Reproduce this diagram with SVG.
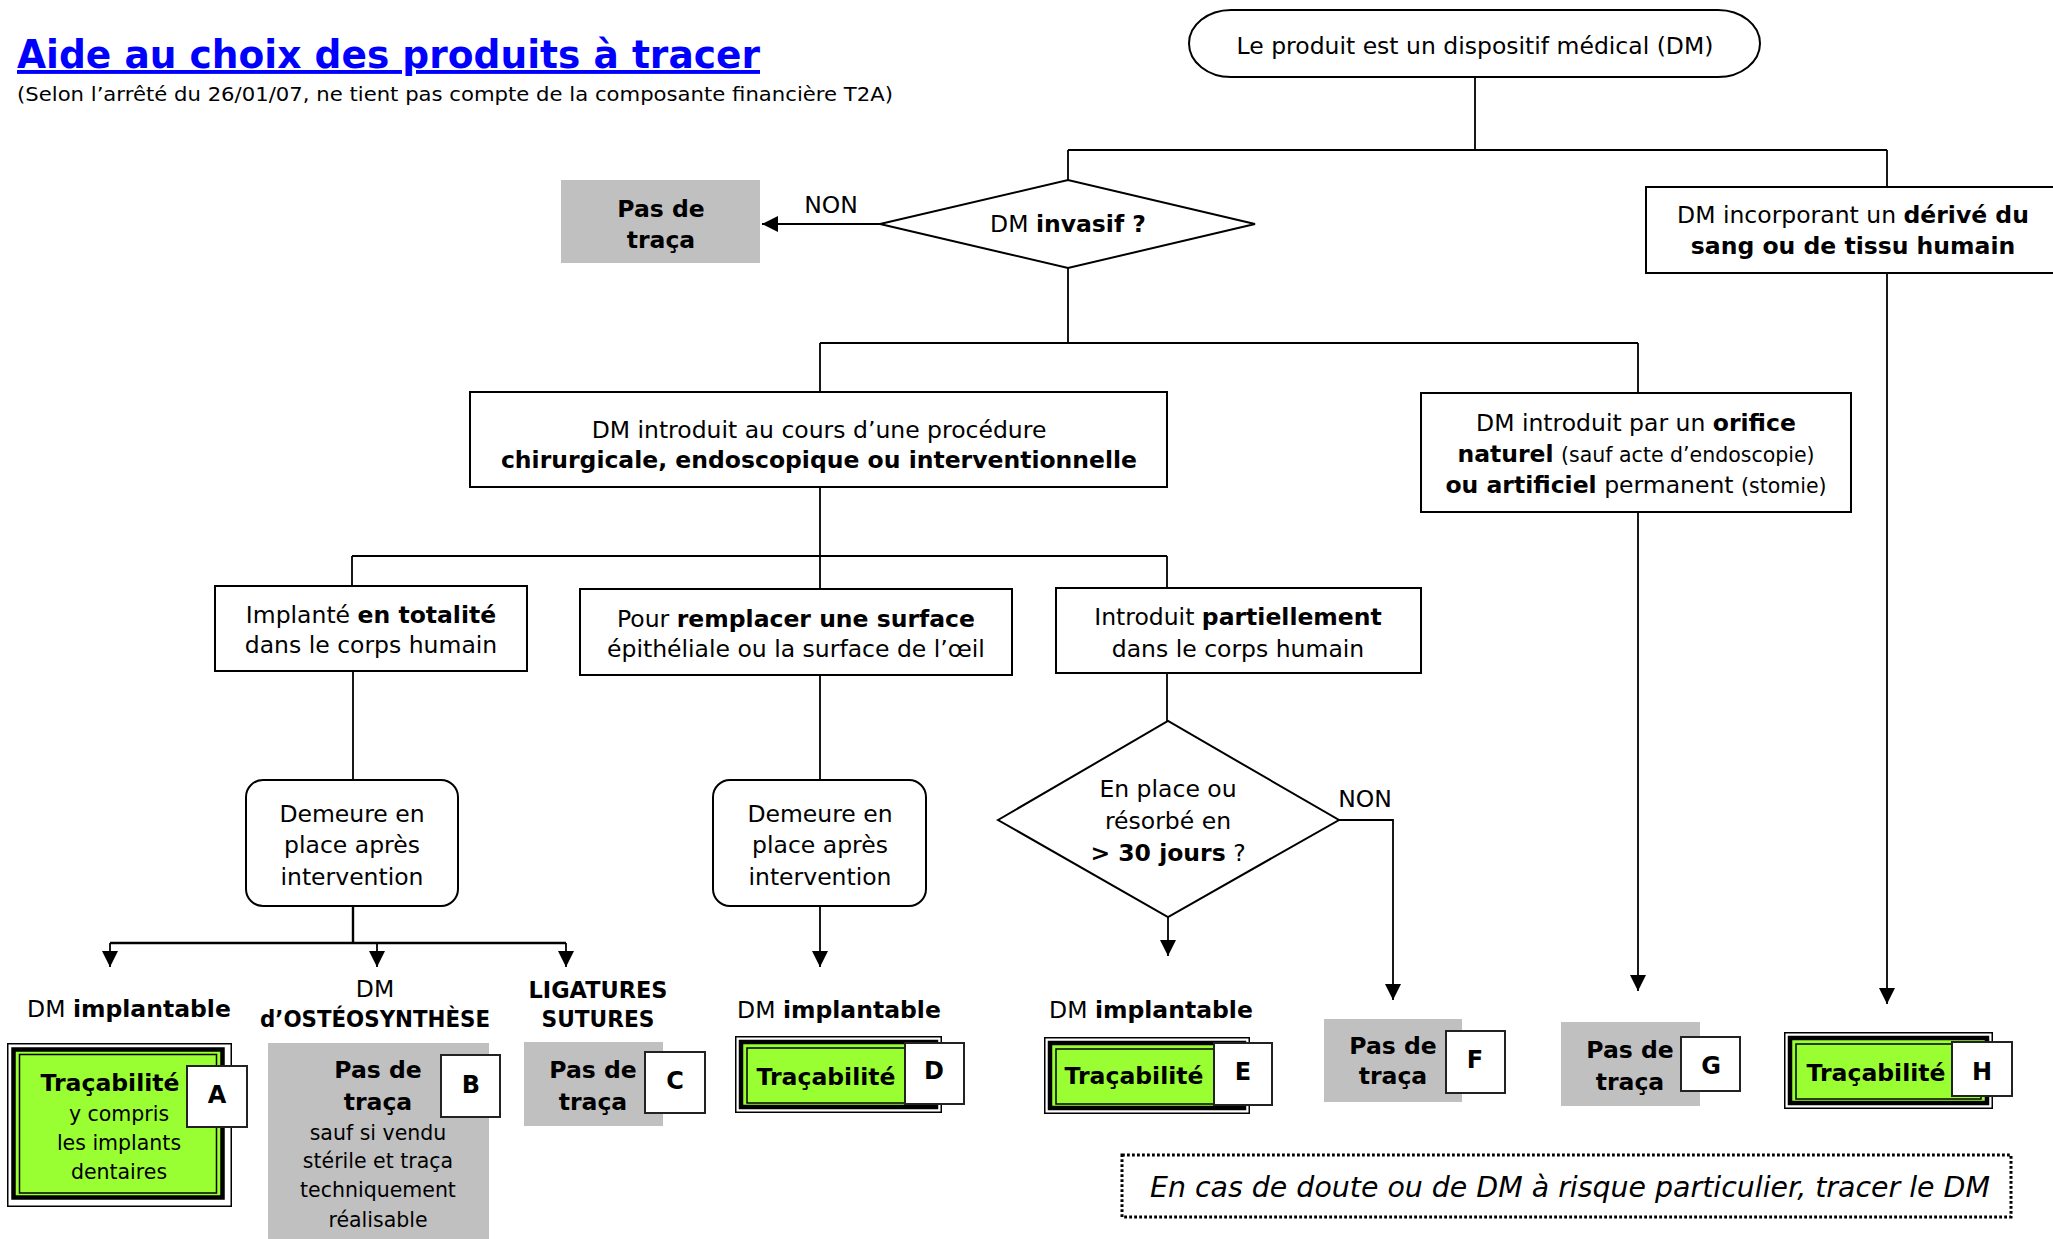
<svg xmlns="http://www.w3.org/2000/svg" width="2053" height="1239" viewBox="0 0 2053 1239">
<defs>
<style>
.t{font-family:"DejaVu Sans",Verdana,sans-serif;font-size:23.5px;fill:#000;text-anchor:middle}
.l{text-anchor:start}
.b{font-weight:bold}
.s{font-size:20.5px}
.box{fill:#fff;stroke:#000;stroke-width:2}
.gray{fill:#C0C0C0}
.badge{fill:#fff;stroke:#222;stroke-width:2}
.o1{fill:#fff;stroke:#000;stroke-width:1.5}
.o2{fill:#99FF33;stroke:#000;stroke-width:4.5}
.o3{fill:none;stroke:#000;stroke-width:1.5}
.ln{stroke:#000;stroke-width:1.8;fill:none}
.ar{stroke:#000;stroke-width:1.8;fill:none;marker-end:url(#ah)}
</style>
<marker id="ah" viewBox="0 0 16 16" refX="16" refY="8" markerWidth="16" markerHeight="16" markerUnits="userSpaceOnUse" orient="auto">
<path d="M0,0 L16,8 L0,16 Z" fill="#000"/>
</marker>
</defs>
<rect width="2053" height="1239" fill="#fff"/>

<g id="title">
<text class="t l b" x="17" y="68" style="font-size:39px;fill:#0000FF;text-decoration:underline" textLength="743" lengthAdjust="spacingAndGlyphs">Aide au choix des produits à tracer</text>
<text class="t l" x="17" y="101" style="font-size:19.5px" textLength="876" lengthAdjust="spacingAndGlyphs">(Selon l’arrêté du 26/01/07, ne tient pas compte de la composante financière T2A)</text>
</g>

<g id="connectors">
<path class="ln" d="M1475,77 V150 M1068,150 H1887 M1068,150 V180 M1887,150 V187"/>
<path class="ar" d="M880,224 H762"/>
<path class="ln" d="M1068,268 V343 M820,343 H1638 M820,343 V392 M1638,343 V393"/>
<path class="ln" d="M820,487 V556 M352,556 H1167 M352,556 V585 M820,556 V589 M1167,556 V588"/>
<path class="ln" d="M353,672 V780 M820,675 V780 M1167,673 V721"/>
<path class="ln" d="M353,906 V943 M110,943 H566" style="stroke-width:2.4"/>
<path class="ar" d="M110,943 V967"/>
<path class="ar" d="M377,943 V967"/>
<path class="ar" d="M566,943 V967"/>
<path class="ar" d="M820,906 V967"/>
<path class="ar" d="M1168,917 V956"/>
<path class="ar" d="M1339,820 H1393 V1000"/>
<path class="ar" d="M1638,512 V991"/>
<path class="ar" d="M1887,274 V1004"/>
<text class="t" x="831" y="213">NON</text>
<text class="t" x="1365" y="807">NON</text>
</g>

<g id="n-start">
<rect class="box" x="1189" y="10" width="571" height="67" rx="42" ry="33.5"/>
<text class="t" x="1475" y="54">Le produit est un dispositif médical (DM)</text>
</g>

<g id="n-invasif">
<polygon class="box" points="880,224 1068,180 1255,224 1068,268"/>
<text class="t" x="1068" y="232">DM <tspan class="b">invasif ?</tspan></text>
</g>

<g id="n-pasdetraca0">
<rect class="gray" x="561" y="180" width="199" height="83"/>
<text class="t b" x="661" y="217">Pas de</text>
<text class="t b" x="661" y="248">traça</text>
</g>

<g id="n-sang">
<rect class="box" x="1646" y="187" width="420" height="86"/>
<text class="t" x="1853" y="223">DM incorporant un <tspan class="b">dérivé du</tspan></text>
<text class="t b" x="1853" y="254">sang ou de tissu humain</text>
</g>

<g id="n-chir">
<rect class="box" x="470" y="392" width="697" height="95"/>
<text class="t" x="819" y="438">DM introduit au cours d’une procédure</text>
<text class="t b" x="819" y="468">chirurgicale, endoscopique ou interventionnelle</text>
</g>

<g id="n-orifice">
<rect class="box" x="1421" y="393" width="430" height="119"/>
<text class="t" x="1636" y="431">DM introduit par un <tspan class="b">orifice</tspan></text>
<text class="t" x="1636" y="462"><tspan class="b">naturel</tspan> <tspan class="s">(sauf acte d’endoscopie)</tspan></text>
<text class="t" x="1636" y="493"><tspan class="b">ou artificiel</tspan> permanent <tspan class="s">(stomie)</tspan></text>
</g>

<g id="n-totalite">
<rect class="box" x="215" y="586" width="312" height="85"/>
<text class="t" x="371" y="623">Implanté <tspan class="b">en totalité</tspan></text>
<text class="t" x="371" y="653">dans le corps humain</text>
</g>

<g id="n-surface">
<rect class="box" x="580" y="589" width="432" height="86"/>
<text class="t" x="796" y="627">Pour <tspan class="b">remplacer une surface</tspan></text>
<text class="t" x="796" y="657">épithéliale ou la surface de l’œil</text>
</g>

<g id="n-partiel">
<rect class="box" x="1056" y="588" width="365" height="85"/>
<text class="t" x="1238" y="625">Introduit <tspan class="b">partiellement</tspan></text>
<text class="t" x="1238" y="657">dans le corps humain</text>
</g>

<g id="n-demeure1">
<rect class="box" x="246" y="780" width="212" height="126" rx="17"/>
<text class="t" x="352" y="822">Demeure en</text>
<text class="t" x="352" y="853">place après</text>
<text class="t" x="352" y="885">intervention</text>
</g>

<g id="n-demeure2">
<rect class="box" x="713" y="780" width="213" height="126" rx="17"/>
<text class="t" x="820" y="822">Demeure en</text>
<text class="t" x="820" y="853">place après</text>
<text class="t" x="820" y="885">intervention</text>
</g>

<g id="n-30jours">
<polygon class="box" points="998,820 1168,721 1339,820 1168,917"/>
<text class="t" x="1168" y="797">En place ou</text>
<text class="t" x="1168" y="829">résorbé en</text>
<text class="t" x="1168" y="861"><tspan class="b">&gt; 30 jours</tspan> ?</text>
</g>

<g id="n-A">
<text class="t" x="129" y="1017">DM <tspan class="b">implantable</tspan></text>
<rect class="o1" x="7.75" y="1043.75" width="223.5" height="162.5"/>
<rect class="o2" x="13.5" y="1049.5" width="209" height="148"/>
<rect class="o3" x="19.5" y="1054.5" width="197" height="138.5"/>
<rect class="badge" x="187" y="1066" width="60" height="61"/>
<text class="t b" x="217" y="1103" style="font-size:24px">A</text>
<text class="t b" x="110" y="1091">Traçabilité</text>
<text class="t s" x="119" y="1121">y compris</text>
<text class="t s" x="119" y="1150">les implants</text>
<text class="t s" x="119" y="1179">dentaires</text>
</g>

<g id="n-B">
<text class="t" x="375" y="997">DM</text>
<text class="t b" x="375" y="1027" textLength="230" lengthAdjust="spacingAndGlyphs">d’OSTÉOSYNTHÈSE</text>
<rect class="gray" x="268" y="1043" width="221" height="200"/>
<rect class="badge" x="441" y="1055" width="59" height="62"/>
<text class="t b" x="471" y="1093" style="font-size:24px">B</text>
<text class="t b" x="378" y="1078">Pas de</text>
<text class="t b" x="378" y="1110">traça</text>
<text class="t s" x="378" y="1140">sauf si vendu</text>
<text class="t s" x="378" y="1168">stérile et traça</text>
<text class="t s" x="378" y="1197">techniquement</text>
<text class="t s" x="378" y="1227">réalisable</text>
</g>

<g id="n-C">
<text class="t b" x="598" y="998" textLength="139" lengthAdjust="spacingAndGlyphs">LIGATURES</text>
<text class="t b" x="598" y="1027" textLength="113" lengthAdjust="spacingAndGlyphs">SUTURES</text>
<rect class="gray" x="524" y="1042" width="139" height="84"/>
<rect class="badge" x="645" y="1052" width="60" height="61"/>
<text class="t b" x="675" y="1089" style="font-size:24px">C</text>
<text class="t b" x="593" y="1078">Pas de</text>
<text class="t b" x="593" y="1110">traça</text>
</g>

<g id="n-D">
<text class="t" x="839" y="1018">DM <tspan class="b">implantable</tspan></text>
<rect class="o1" x="735.75" y="1036.75" width="205.5" height="75.5"/>
<rect class="o2" x="741" y="1042" width="195" height="65"/>
<rect class="o3" x="747" y="1048" width="183" height="55"/>
<rect class="badge" x="905" y="1043" width="59" height="61"/>
<text class="t b" x="934" y="1079" style="font-size:24px">D</text>
<text class="t b" x="826" y="1085">Traçabilité</text>
</g>

<g id="n-E">
<text class="t" x="1151" y="1018">DM <tspan class="b">implantable</tspan></text>
<rect class="o1" x="1044.75" y="1037.75" width="204.5" height="75.5"/>
<rect class="o2" x="1050" y="1043" width="194" height="65"/>
<rect class="o3" x="1056" y="1049" width="182" height="55"/>
<rect class="badge" x="1214" y="1043" width="58" height="62"/>
<text class="t b" x="1243" y="1080" style="font-size:24px">E</text>
<text class="t b" x="1134" y="1084">Traçabilité</text>
</g>

<g id="n-F">
<rect class="gray" x="1324" y="1019" width="138" height="83"/>
<rect class="badge" x="1446" y="1031" width="59" height="62"/>
<text class="t b" x="1475" y="1068" style="font-size:24px">F</text>
<text class="t b" x="1393" y="1054">Pas de</text>
<text class="t b" x="1393" y="1084">traça</text>
</g>

<g id="n-G">
<rect class="gray" x="1561" y="1022" width="139" height="84"/>
<rect class="badge" x="1681" y="1037" width="59" height="54"/>
<text class="t b" x="1711" y="1074" style="font-size:24px">G</text>
<text class="t b" x="1630" y="1058">Pas de</text>
<text class="t b" x="1630" y="1090">traça</text>
</g>

<g id="n-H">
<rect class="o1" x="1784.75" y="1032.75" width="207.5" height="75.5"/>
<rect class="o2" x="1790" y="1038" width="197" height="65"/>
<rect class="o3" x="1796" y="1044" width="185" height="55"/>
<rect class="badge" x="1952" y="1042" width="60" height="54"/>
<text class="t b" x="1982" y="1080" style="font-size:24px">H</text>
<text class="t b" x="1876" y="1081">Traçabilité</text>
</g>

<g id="n-note">
<rect x="1122" y="1155" width="889" height="62" fill="none" stroke="#000" stroke-width="3" stroke-dasharray="2.8 2.2"/>
<text class="t l" x="1150" y="1197" style="font-size:28px;font-style:italic" textLength="840" lengthAdjust="spacingAndGlyphs">En cas de doute ou de DM à risque particulier, tracer le DM</text>
</g>
</svg>
